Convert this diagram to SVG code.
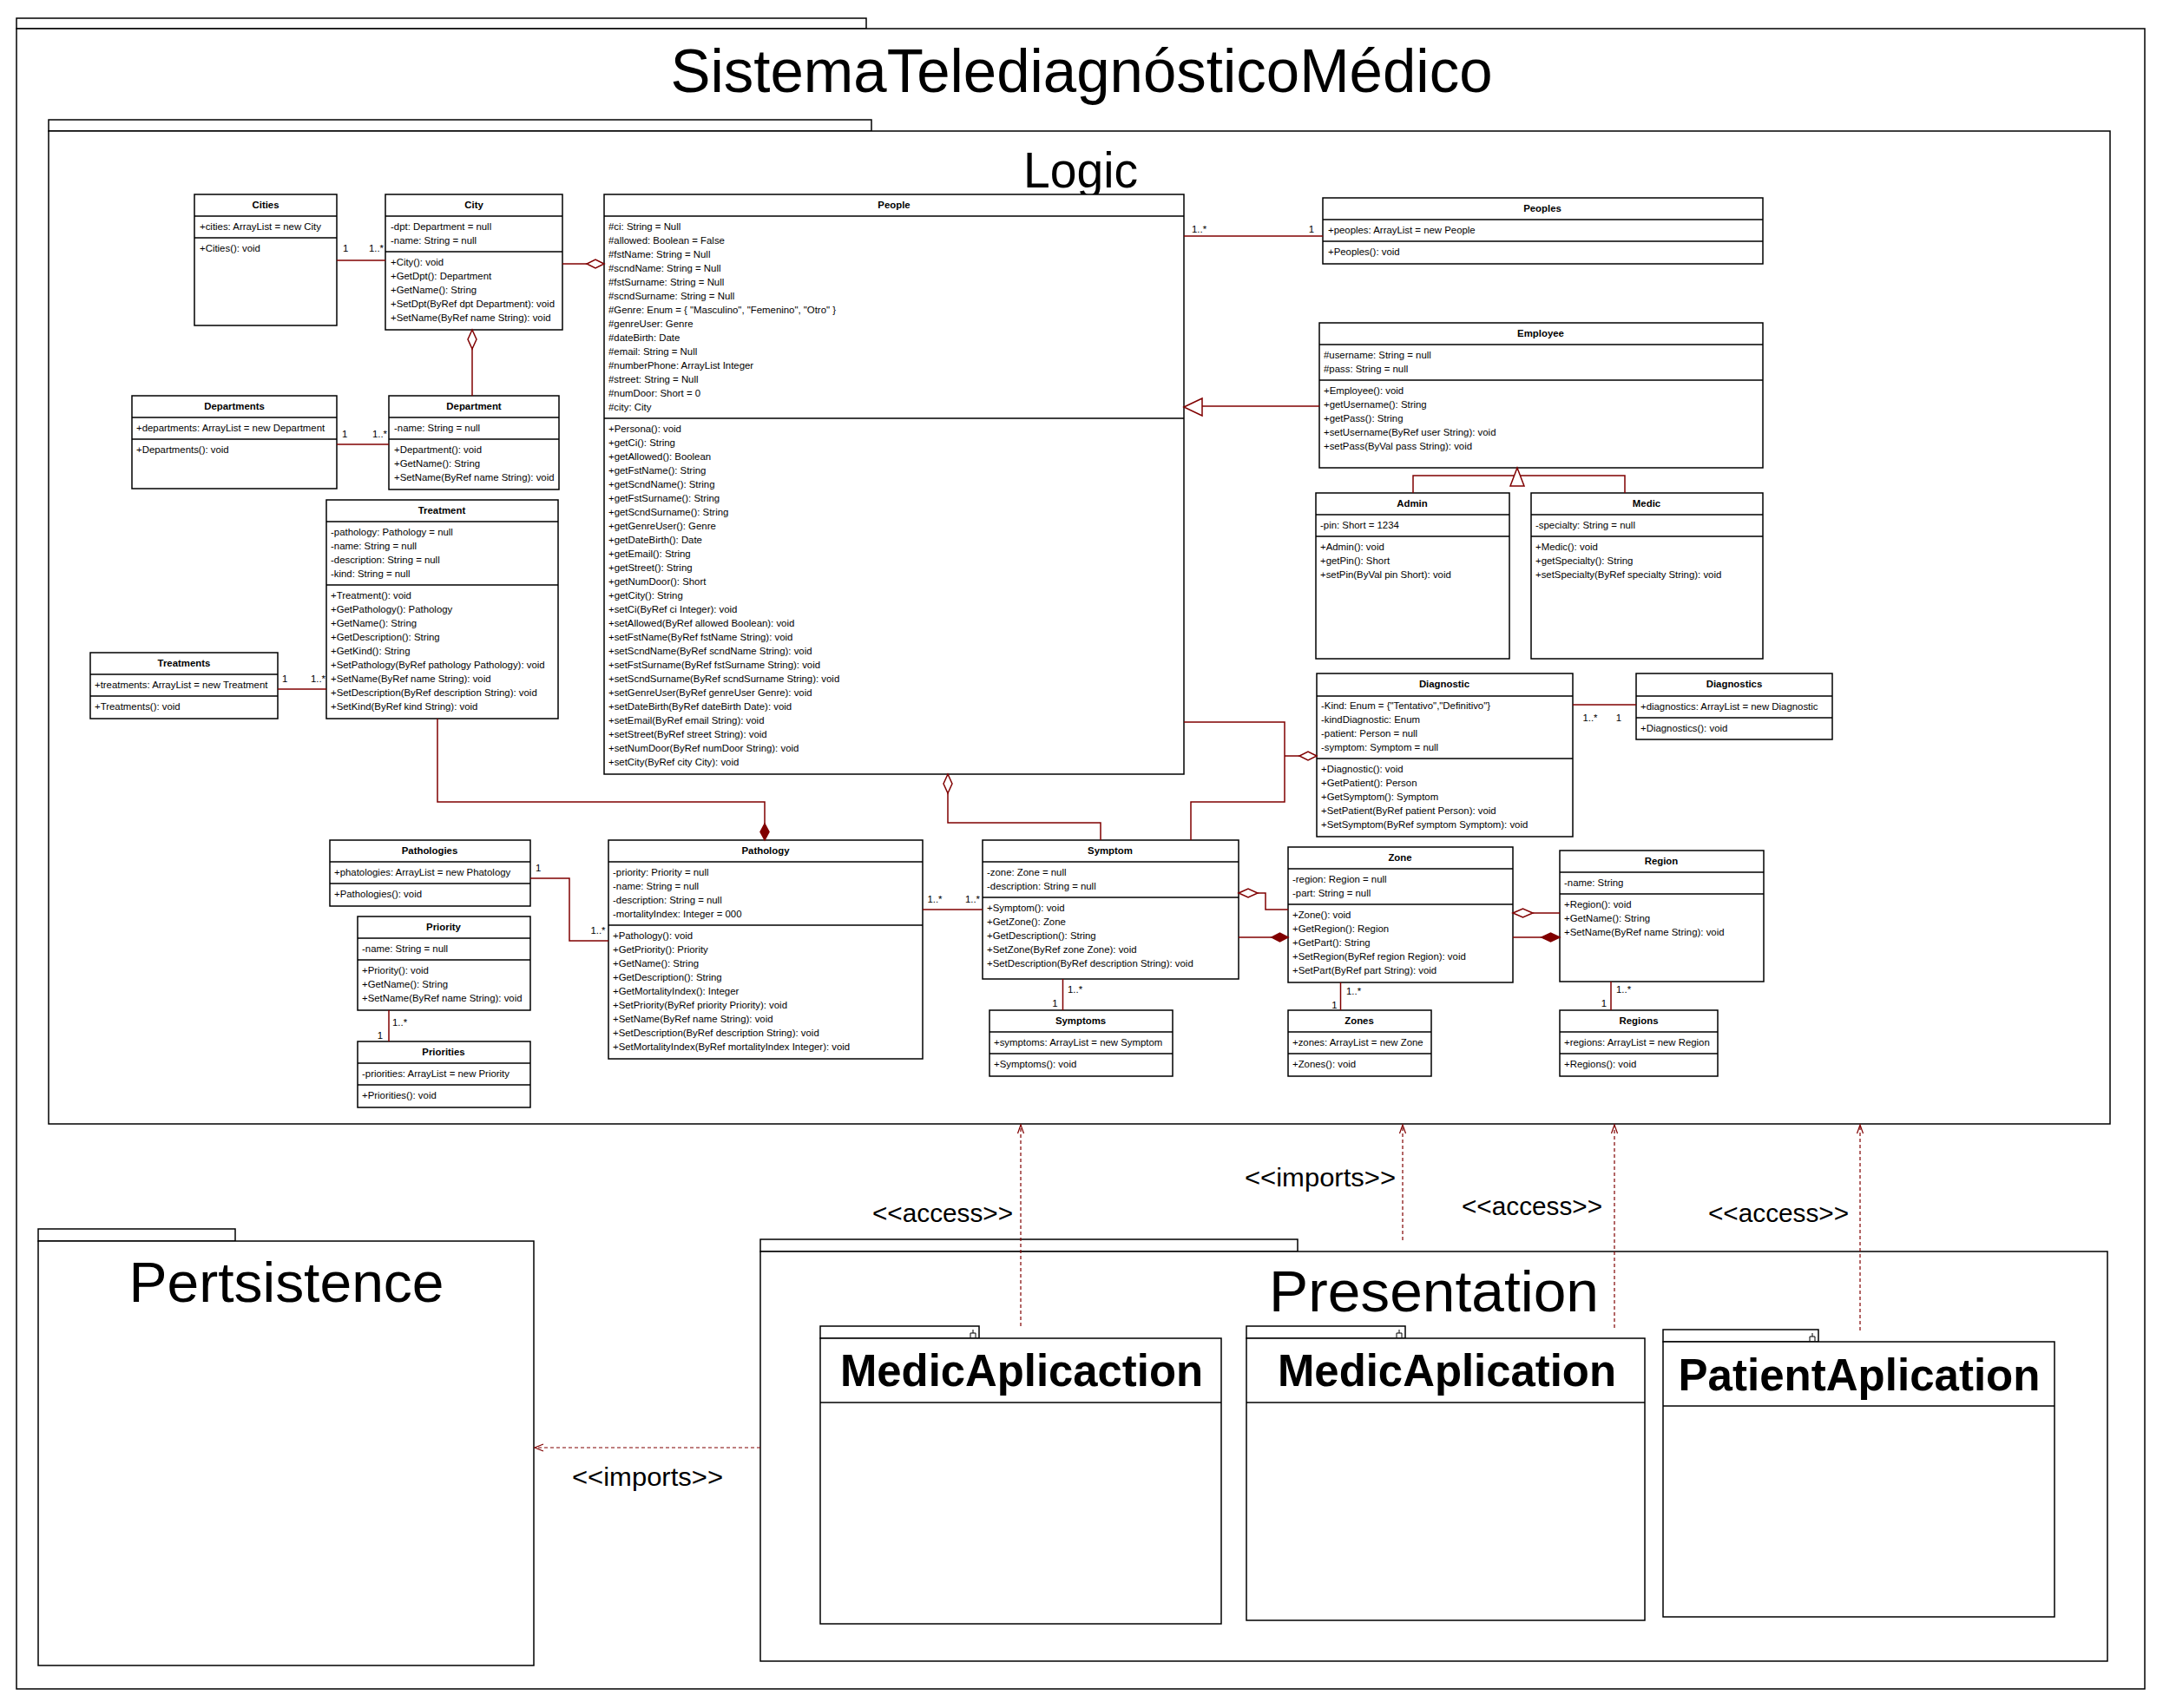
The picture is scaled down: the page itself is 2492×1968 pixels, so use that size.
<svg xmlns="http://www.w3.org/2000/svg" width="2492" height="1968" viewBox="0 0 2492 1968">
<style>
.bg{fill:#fff}
.box{fill:#fff;stroke:#000;stroke-width:1.5}
.pkg{fill:#fff;stroke:#000;stroke-width:1.5}
.sep{fill:none;stroke:#000;stroke-width:1.5}
.t{font-family:"Liberation Sans",Arial,sans-serif;font-size:11.4px;fill:#000}
.h{font-weight:bold;text-anchor:middle}
.m{text-anchor:middle}
.c{fill:none;stroke:#800000;stroke-width:1.5}
.hd{fill:#fff;stroke:#800000;stroke-width:1.5}
.fd{fill:#800000;stroke:#800000;stroke-width:1.5}
.d{fill:none;stroke:#800000;stroke-width:1.2;stroke-dasharray:4 3}
.ah{fill:none;stroke:#800000;stroke-width:1.2}
.big{font-family:"Liberation Sans",Arial,sans-serif;fill:#000;text-anchor:middle}
.st{font-family:"Liberation Sans",Arial,sans-serif;font-size:30px;fill:#000;text-anchor:middle}
.ico{fill:none;stroke:#000;stroke-width:1}
</style>
<rect class="bg" x="0" y="0" width="2492" height="1968"/>

<g id="pkg-Sistema">
<rect class="pkg" x="19" y="21" width="979" height="12"/>
<rect class="pkg" x="19" y="33" width="2452" height="1913"/>
<text class="big" x="1246" y="106" font-size="70" textLength="947" lengthAdjust="spacingAndGlyphs">SistemaTelediagnósticoMédico</text>
</g>

<g id="pkg-Logic">
<rect class="pkg" x="56" y="138" width="948" height="13"/>
<rect class="pkg" x="56" y="151" width="2375" height="1144"/>
<text class="big" x="1245" y="216" font-size="58" textLength="132" lengthAdjust="spacingAndGlyphs">Logic</text>
</g>

<g id="pkg-Pertsistence">
<rect class="pkg" x="44" y="1416" width="227" height="14"/>
<rect class="pkg" x="44" y="1430" width="571" height="489"/>
<text class="big" x="330" y="1500" font-size="64" textLength="363" lengthAdjust="spacingAndGlyphs">Pertsistence</text>
</g>

<g id="pkg-Presentation">
<rect class="pkg" x="876" y="1428" width="619" height="14"/>
<rect class="pkg" x="876" y="1442" width="1552" height="472"/>
<text class="big" x="1652" y="1511" font-size="66" textLength="380" lengthAdjust="spacingAndGlyphs">Presentation</text>
</g>

<g id="pkg-MedicAplicaction">
<rect class="pkg" x="945" y="1528" width="183" height="14"/>
<path class="ico" d="M1118 1541V1536H1124V1541M1121 1536V1532"/>
<rect class="pkg" x="945" y="1542" width="462" height="329"/>
<path class="sep" d="M945 1616H1407"/>
<text class="big" x="1177" y="1597" font-size="52" font-weight="bold" textLength="418" lengthAdjust="spacingAndGlyphs">MedicAplicaction</text>
</g>

<g id="pkg-MedicAplication">
<rect class="pkg" x="1436" y="1528" width="183" height="14"/>
<path class="ico" d="M1609 1541V1536H1615V1541M1612 1536V1532"/>
<rect class="pkg" x="1436" y="1542" width="459" height="325"/>
<path class="sep" d="M1436 1616H1895"/>
<text class="big" x="1667" y="1597" font-size="52" font-weight="bold" textLength="390" lengthAdjust="spacingAndGlyphs">MedicAplication</text>
</g>

<g id="pkg-PatientAplication">
<rect class="pkg" x="1916" y="1532" width="179" height="14"/>
<path class="ico" d="M2085 1545V1540H2091V1545M2088 1540V1536"/>
<rect class="pkg" x="1916" y="1546" width="451" height="317"/>
<path class="sep" d="M1916 1620H2367"/>
<text class="big" x="2142" y="1602" font-size="52" font-weight="bold" textLength="417" lengthAdjust="spacingAndGlyphs">PatientAplication</text>
</g>

<g id="cls-Cities">
<rect class="box" x="224" y="224" width="164" height="151"/>
<path class="sep" d="M224 249H388M224 274H388"/>
<text class="t h" x="306" y="240">Cities</text>
<text class="t" x="230" y="265">+cities: ArrayList = new City</text>
<text class="t" x="230" y="290">+Cities(): void</text>
</g>

<g id="cls-City">
<rect class="box" x="444" y="224" width="204" height="156"/>
<path class="sep" d="M444 249H648M444 290H648"/>
<text class="t h" x="546" y="240">City</text>
<text class="t" x="450" y="265">-dpt: Department = null</text>
<text class="t" x="450" y="281">-name: String = null</text>
<text class="t" x="450" y="306">+City(): void</text>
<text class="t" x="450" y="322">+GetDpt(): Department</text>
<text class="t" x="450" y="338">+GetName(): String</text>
<text class="t" x="450" y="354">+SetDpt(ByRef dpt Department): void</text>
<text class="t" x="450" y="370">+SetName(ByRef name String): void</text>
</g>

<g id="cls-Departments">
<rect class="box" x="152" y="456" width="236" height="107"/>
<path class="sep" d="M152 481H388M152 506H388"/>
<text class="t h" x="270" y="472">Departments</text>
<text class="t" x="157" y="497">+departments: ArrayList = new Department</text>
<text class="t" x="157" y="522">+Departments(): void</text>
</g>

<g id="cls-Department">
<rect class="box" x="448" y="456" width="196" height="108"/>
<path class="sep" d="M448 481H644M448 506H644"/>
<text class="t h" x="546" y="472">Department</text>
<text class="t" x="454" y="497">-name: String = null</text>
<text class="t" x="454" y="522">+Department(): void</text>
<text class="t" x="454" y="538">+GetName(): String</text>
<text class="t" x="454" y="554">+SetName(ByRef name String): void</text>
</g>

<g id="cls-People">
<rect class="box" x="696" y="224" width="668" height="668"/>
<path class="sep" d="M696 249H1364M696 482H1364"/>
<text class="t h" x="1030" y="240">People</text>
<text class="t" x="701" y="265">#ci: String = Null</text>
<text class="t" x="701" y="281">#allowed: Boolean = False</text>
<text class="t" x="701" y="297">#fstName: String = Null</text>
<text class="t" x="701" y="313">#scndName: String = Null</text>
<text class="t" x="701" y="329">#fstSurname: String = Null</text>
<text class="t" x="701" y="345">#scndSurname: String = Null</text>
<text class="t" x="701" y="361">#Genre: Enum = { "Masculino", "Femenino", "Otro" }</text>
<text class="t" x="701" y="377">#genreUser: Genre</text>
<text class="t" x="701" y="393">#dateBirth: Date</text>
<text class="t" x="701" y="409">#email: String = Null</text>
<text class="t" x="701" y="425">#numberPhone: ArrayList Integer</text>
<text class="t" x="701" y="441">#street: String = Null</text>
<text class="t" x="701" y="457">#numDoor: Short = 0</text>
<text class="t" x="701" y="473">#city: City</text>
<text class="t" x="701" y="498">+Persona(): void</text>
<text class="t" x="701" y="514">+getCi(): String</text>
<text class="t" x="701" y="530">+getAllowed(): Boolean</text>
<text class="t" x="701" y="546">+getFstName(): String</text>
<text class="t" x="701" y="562">+getScndName(): String</text>
<text class="t" x="701" y="578">+getFstSurname(): String</text>
<text class="t" x="701" y="594">+getScndSurname(): String</text>
<text class="t" x="701" y="610">+getGenreUser(): Genre</text>
<text class="t" x="701" y="626">+getDateBirth(): Date</text>
<text class="t" x="701" y="642">+getEmail(): String</text>
<text class="t" x="701" y="658">+getStreet(): String</text>
<text class="t" x="701" y="674">+getNumDoor(): Short</text>
<text class="t" x="701" y="690">+getCity(): String</text>
<text class="t" x="701" y="706">+setCi(ByRef ci Integer): void</text>
<text class="t" x="701" y="722">+setAllowed(ByRef allowed Boolean): void</text>
<text class="t" x="701" y="738">+setFstName(ByRef fstName String): void</text>
<text class="t" x="701" y="754">+setScndName(ByRef scndName String): void</text>
<text class="t" x="701" y="770">+setFstSurname(ByRef fstSurname String): void</text>
<text class="t" x="701" y="786">+setScndSurname(ByRef scndSurname String): void</text>
<text class="t" x="701" y="802">+setGenreUser(ByRef genreUser Genre): void</text>
<text class="t" x="701" y="818">+setDateBirth(ByRef dateBirth Date): void</text>
<text class="t" x="701" y="834">+setEmail(ByRef email String): void</text>
<text class="t" x="701" y="850">+setStreet(ByRef street String): void</text>
<text class="t" x="701" y="866">+setNumDoor(ByRef numDoor String): void</text>
<text class="t" x="701" y="882">+setCity(ByRef city City): void</text>
</g>

<g id="cls-Peoples">
<rect class="box" x="1524" y="228" width="507" height="76"/>
<path class="sep" d="M1524 253H2031M1524 278H2031"/>
<text class="t h" x="1777" y="244">Peoples</text>
<text class="t" x="1530" y="269">+peoples: ArrayList = new People</text>
<text class="t" x="1530" y="294">+Peoples(): void</text>
</g>

<g id="cls-Employee">
<rect class="box" x="1520" y="372" width="511" height="167"/>
<path class="sep" d="M1520 397H2031M1520 438H2031"/>
<text class="t h" x="1775" y="388">Employee</text>
<text class="t" x="1525" y="413">#username: String = null</text>
<text class="t" x="1525" y="429">#pass: String = null</text>
<text class="t" x="1525" y="454">+Employee(): void</text>
<text class="t" x="1525" y="470">+getUsername(): String</text>
<text class="t" x="1525" y="486">+getPass(): String</text>
<text class="t" x="1525" y="502">+setUsername(ByRef user String): void</text>
<text class="t" x="1525" y="518">+setPass(ByVal pass String): void</text>
</g>

<g id="cls-Admin">
<rect class="box" x="1516" y="568" width="223" height="191"/>
<path class="sep" d="M1516 593H1739M1516 618H1739"/>
<text class="t h" x="1627" y="584">Admin</text>
<text class="t" x="1521" y="609">-pin: Short = 1234</text>
<text class="t" x="1521" y="634">+Admin(): void</text>
<text class="t" x="1521" y="650">+getPin(): Short</text>
<text class="t" x="1521" y="666">+setPin(ByVal pin Short): void</text>
</g>

<g id="cls-Medic">
<rect class="box" x="1764" y="568" width="267" height="191"/>
<path class="sep" d="M1764 593H2031M1764 618H2031"/>
<text class="t h" x="1897" y="584">Medic</text>
<text class="t" x="1769" y="609">-specialty: String = null</text>
<text class="t" x="1769" y="634">+Medic(): void</text>
<text class="t" x="1769" y="650">+getSpecialty(): String</text>
<text class="t" x="1769" y="666">+setSpecialty(ByRef specialty String): void</text>
</g>

<g id="cls-Treatment">
<rect class="box" x="376" y="576" width="267" height="252"/>
<path class="sep" d="M376 601H643M376 674H643"/>
<text class="t h" x="509" y="592">Treatment</text>
<text class="t" x="381" y="617">-pathology: Pathology = null</text>
<text class="t" x="381" y="633">-name: String = null</text>
<text class="t" x="381" y="649">-description: String = null</text>
<text class="t" x="381" y="665">-kind: String = null</text>
<text class="t" x="381" y="690">+Treatment(): void</text>
<text class="t" x="381" y="706">+GetPathology(): Pathology</text>
<text class="t" x="381" y="722">+GetName(): String</text>
<text class="t" x="381" y="738">+GetDescription(): String</text>
<text class="t" x="381" y="754">+GetKind(): String</text>
<text class="t" x="381" y="770">+SetPathology(ByRef pathology Pathology): void</text>
<text class="t" x="381" y="786">+SetName(ByRef name String): void</text>
<text class="t" x="381" y="802">+SetDescription(ByRef description String): void</text>
<text class="t" x="381" y="818">+SetKind(ByRef kind String): void</text>
</g>

<g id="cls-Treatments">
<rect class="box" x="104" y="752" width="216" height="76"/>
<path class="sep" d="M104 777H320M104 802H320"/>
<text class="t h" x="212" y="768">Treatments</text>
<text class="t" x="109" y="793">+treatments: ArrayList = new Treatment</text>
<text class="t" x="109" y="818">+Treatments(): void</text>
</g>

<g id="cls-Diagnostic">
<rect class="box" x="1517" y="776" width="295" height="188"/>
<path class="sep" d="M1517 802H1812M1517 874H1812"/>
<text class="t h" x="1664" y="792">Diagnostic</text>
<text class="t" x="1522" y="817">-Kind: Enum = {"Tentativo","Definitivo"}</text>
<text class="t" x="1522" y="833">-kindDiagnostic: Enum</text>
<text class="t" x="1522" y="849">-patient: Person = null</text>
<text class="t" x="1522" y="865">-symptom: Symptom = null</text>
<text class="t" x="1522" y="890">+Diagnostic(): void</text>
<text class="t" x="1522" y="906">+GetPatient(): Person</text>
<text class="t" x="1522" y="922">+GetSymptom(): Symptom</text>
<text class="t" x="1522" y="938">+SetPatient(ByRef patient Person): void</text>
<text class="t" x="1522" y="954">+SetSymptom(ByRef symptom Symptom): void</text>
</g>

<g id="cls-Diagnostics">
<rect class="box" x="1885" y="776" width="226" height="76"/>
<path class="sep" d="M1885 802H2111M1885 827H2111"/>
<text class="t h" x="1998" y="792">Diagnostics</text>
<text class="t" x="1890" y="818">+diagnostics: ArrayList = new Diagnostic</text>
<text class="t" x="1890" y="843">+Diagnostics(): void</text>
</g>

<g id="cls-Pathologies">
<rect class="box" x="380" y="968" width="231" height="76"/>
<path class="sep" d="M380 993H611M380 1018H611"/>
<text class="t h" x="495" y="984">Pathologies</text>
<text class="t" x="385" y="1009">+phatologies: ArrayList = new Phatology</text>
<text class="t" x="385" y="1034">+Pathologies(): void</text>
</g>

<g id="cls-Priority">
<rect class="box" x="412" y="1056" width="199" height="108"/>
<path class="sep" d="M412 1081H611M412 1106H611"/>
<text class="t h" x="511" y="1072">Priority</text>
<text class="t" x="417" y="1097">-name: String = null</text>
<text class="t" x="417" y="1122">+Priority(): void</text>
<text class="t" x="417" y="1138">+GetName(): String</text>
<text class="t" x="417" y="1154">+SetName(ByRef name String): void</text>
</g>

<g id="cls-Priorities">
<rect class="box" x="412" y="1200" width="199" height="76"/>
<path class="sep" d="M412 1225H611M412 1250H611"/>
<text class="t h" x="511" y="1216">Priorities</text>
<text class="t" x="417" y="1241">-priorities: ArrayList = new Priority</text>
<text class="t" x="417" y="1266">+Priorities(): void</text>
</g>

<g id="cls-Pathology">
<rect class="box" x="701" y="968" width="362" height="252"/>
<path class="sep" d="M701 993H1063M701 1066H1063"/>
<text class="t h" x="882" y="984">Pathology</text>
<text class="t" x="706" y="1009">-priority: Priority = null</text>
<text class="t" x="706" y="1025">-name: String = null</text>
<text class="t" x="706" y="1041">-description: String = null</text>
<text class="t" x="706" y="1057">-mortalityIndex: Integer = 000</text>
<text class="t" x="706" y="1082">+Pathology(): void</text>
<text class="t" x="706" y="1098">+GetPriority(): Priority</text>
<text class="t" x="706" y="1114">+GetName(): String</text>
<text class="t" x="706" y="1130">+GetDescription(): String</text>
<text class="t" x="706" y="1146">+GetMortalityIndex(): Integer</text>
<text class="t" x="706" y="1162">+SetPriority(ByRef priority Priority): void</text>
<text class="t" x="706" y="1178">+SetName(ByRef name String): void</text>
<text class="t" x="706" y="1194">+SetDescription(ByRef description String): void</text>
<text class="t" x="706" y="1210">+SetMortalityIndex(ByRef mortalityIndex Integer): void</text>
</g>

<g id="cls-Symptom">
<rect class="box" x="1132" y="968" width="295" height="160"/>
<path class="sep" d="M1132 993H1427M1132 1034H1427"/>
<text class="t h" x="1279" y="984">Symptom</text>
<text class="t" x="1137" y="1009">-zone: Zone = null</text>
<text class="t" x="1137" y="1025">-description: String = null</text>
<text class="t" x="1137" y="1050">+Symptom(): void</text>
<text class="t" x="1137" y="1066">+GetZone(): Zone</text>
<text class="t" x="1137" y="1082">+GetDescription(): String</text>
<text class="t" x="1137" y="1098">+SetZone(ByRef zone Zone): void</text>
<text class="t" x="1137" y="1114">+SetDescription(ByRef description String): void</text>
</g>

<g id="cls-Symptoms">
<rect class="box" x="1140" y="1164" width="211" height="76"/>
<path class="sep" d="M1140 1189H1351M1140 1214H1351"/>
<text class="t h" x="1245" y="1180">Symptoms</text>
<text class="t" x="1145" y="1205">+symptoms: ArrayList = new Symptom</text>
<text class="t" x="1145" y="1230">+Symptoms(): void</text>
</g>

<g id="cls-Zone">
<rect class="box" x="1484" y="976" width="259" height="156"/>
<path class="sep" d="M1484 1001H1743M1484 1042H1743"/>
<text class="t h" x="1613" y="992">Zone</text>
<text class="t" x="1489" y="1017">-region: Region = null</text>
<text class="t" x="1489" y="1033">-part: String = null</text>
<text class="t" x="1489" y="1058">+Zone(): void</text>
<text class="t" x="1489" y="1074">+GetRegion(): Region</text>
<text class="t" x="1489" y="1090">+GetPart(): String</text>
<text class="t" x="1489" y="1106">+SetRegion(ByRef region Region): void</text>
<text class="t" x="1489" y="1122">+SetPart(ByRef part String): void</text>
</g>

<g id="cls-Zones">
<rect class="box" x="1484" y="1164" width="165" height="76"/>
<path class="sep" d="M1484 1189H1649M1484 1214H1649"/>
<text class="t h" x="1566" y="1180">Zones</text>
<text class="t" x="1489" y="1205">+zones: ArrayList = new Zone</text>
<text class="t" x="1489" y="1230">+Zones(): void</text>
</g>

<g id="cls-Region">
<rect class="box" x="1797" y="980" width="235" height="151"/>
<path class="sep" d="M1797 1005H2032M1797 1030H2032"/>
<text class="t h" x="1914" y="996">Region</text>
<text class="t" x="1802" y="1021">-name: String</text>
<text class="t" x="1802" y="1046">+Region(): void</text>
<text class="t" x="1802" y="1062">+GetName(): String</text>
<text class="t" x="1802" y="1078">+SetName(ByRef name String): void</text>
</g>

<g id="cls-Regions">
<rect class="box" x="1797" y="1164" width="182" height="76"/>
<path class="sep" d="M1797 1189H1979M1797 1214H1979"/>
<text class="t h" x="1888" y="1180">Regions</text>
<text class="t" x="1802" y="1205">+regions: ArrayList = new Region</text>
<text class="t" x="1802" y="1230">+Regions(): void</text>
</g>

<g id="connectors">
<!-- Cities - City -->
<path class="c" d="M388 300H444"/>
<text class="t" x="395" y="290">1</text>
<text class="t" x="442" y="290" text-anchor="end">1..*</text>
<!-- City - People aggregation -->
<path class="c" d="M648 304H676"/>
<path class="hd" d="M696 304L686 299L676 304L686 309Z"/>
<!-- City - Department aggregation -->
<path class="c" d="M544 402V456"/>
<path class="hd" d="M544 380L539 391L544 402L549 391Z"/>
<!-- Departments - Department -->
<path class="c" d="M388 512H448"/>
<text class="t" x="394" y="504">1</text>
<text class="t" x="446" y="504" text-anchor="end">1..*</text>
<!-- People - Peoples -->
<path class="c" d="M1364 272H1524"/>
<text class="t" x="1373" y="268">1..*</text>
<text class="t m" x="1511" y="268">1</text>
<!-- Employee generalization to People -->
<path class="c" d="M1520 468H1385"/>
<path class="hd" d="M1364 469L1385 459L1385 479Z"/>
<!-- Admin / Medic generalization to Employee -->
<path class="c" d="M1628 568V548H1872V568"/>
<path class="hd" d="M1748 539L1740 560L1756 560Z"/>
<!-- Treatments - Treatment -->
<path class="c" d="M320 794H376"/>
<text class="t" x="325" y="786">1</text>
<text class="t" x="375" y="786" text-anchor="end">1..*</text>
<!-- Treatment - Pathology composition -->
<path class="c" d="M504 828V924H881V949"/>
<path class="fd" d="M881 949L876 958.5L881 968L886 958.5Z"/>
<!-- Pathologies - Pathology -->
<path class="c" d="M611 1012H656V1084H701"/>
<text class="t" x="617" y="1004">1</text>
<text class="t m" x="689" y="1076">1..*</text>
<!-- Priority - Priorities -->
<path class="c" d="M448 1164V1200"/>
<text class="t" x="452" y="1182">1..*</text>
<text class="t m" x="438" y="1197">1</text>
<!-- Pathology - Symptom -->
<path class="c" d="M1063 1048H1132"/>
<text class="t m" x="1077" y="1040">1..*</text>
<text class="t" x="1129" y="1040" text-anchor="end">1..*</text>
<!-- People - Symptom aggregation -->
<path class="c" d="M1092 914V948H1268V968"/>
<path class="hd" d="M1092 892L1087 903L1092 914L1097 903Z"/>
<!-- People / Symptom - Diagnostic aggregation -->
<path class="c" d="M1364 832H1480V924H1372V968M1480 871H1497"/>
<path class="hd" d="M1517 871L1507 866L1497 871L1507 876Z"/>
<!-- Diagnostic - Diagnostics -->
<path class="c" d="M1812 812H1885"/>
<text class="t m" x="1832" y="831">1..*</text>
<text class="t m" x="1865" y="831">1</text>
<!-- Symptom - Symptoms -->
<path class="c" d="M1224.5 1128V1164"/>
<text class="t" x="1230" y="1144">1..*</text>
<text class="t m" x="1215.5" y="1160">1</text>
<!-- Symptom - Zone aggregation -->
<path class="c" d="M1449 1029H1458V1048H1484"/>
<path class="hd" d="M1427 1029L1438 1024L1449 1029L1438 1034Z"/>
<!-- Zone - Symptom composition -->
<path class="c" d="M1427 1080H1465"/>
<path class="fd" d="M1484 1080L1474.5 1075L1465 1080L1474.5 1085Z"/>
<!-- Zone - Zones -->
<path class="c" d="M1544.5 1132V1164"/>
<text class="t" x="1551" y="1146">1..*</text>
<text class="t m" x="1537.5" y="1162">1</text>
<!-- Zone - Region aggregation -->
<path class="c" d="M1766 1052H1797"/>
<path class="hd" d="M1743 1052L1754.5 1047L1766 1052L1754.5 1057Z"/>
<!-- Region - Zone composition -->
<path class="c" d="M1743 1080H1776"/>
<path class="fd" d="M1797 1080L1786.5 1075L1776 1080L1786.5 1085Z"/>
<!-- Region - Regions -->
<path class="c" d="M1856 1131V1164"/>
<text class="t" x="1862" y="1144">1..*</text>
<text class="t m" x="1848" y="1160">1</text>

<!-- Package dependencies -->
<path class="d" d="M876 1668H616"/>
<path class="ah" d="M626 1664L616 1668L626 1672"/>
<text class="st" x="746" y="1712" textLength="174" lengthAdjust="spacingAndGlyphs">&lt;&lt;imports&gt;&gt;</text>

<path class="d" d="M1176 1528V1296"/>
<path class="ah" d="M1172.5 1306L1176 1296L1179.5 1306"/>
<text class="st" x="1086" y="1408" textLength="162" lengthAdjust="spacingAndGlyphs">&lt;&lt;access&gt;&gt;</text>

<path class="d" d="M1616 1429V1296"/>
<path class="ah" d="M1612.5 1306L1616 1296L1619.5 1306"/>
<text class="st" x="1521" y="1367" textLength="174" lengthAdjust="spacingAndGlyphs">&lt;&lt;imports&gt;&gt;</text>

<path class="d" d="M1860 1530V1296"/>
<path class="ah" d="M1856.5 1306L1860 1296L1863.5 1306"/>
<text class="st" x="1765" y="1400" textLength="162" lengthAdjust="spacingAndGlyphs">&lt;&lt;access&gt;&gt;</text>

<path class="d" d="M2143 1533V1296"/>
<path class="ah" d="M2139.5 1306L2143 1296L2146.5 1306"/>
<text class="st" x="2049" y="1408" textLength="162" lengthAdjust="spacingAndGlyphs">&lt;&lt;access&gt;&gt;</text>
</g>
</svg>
